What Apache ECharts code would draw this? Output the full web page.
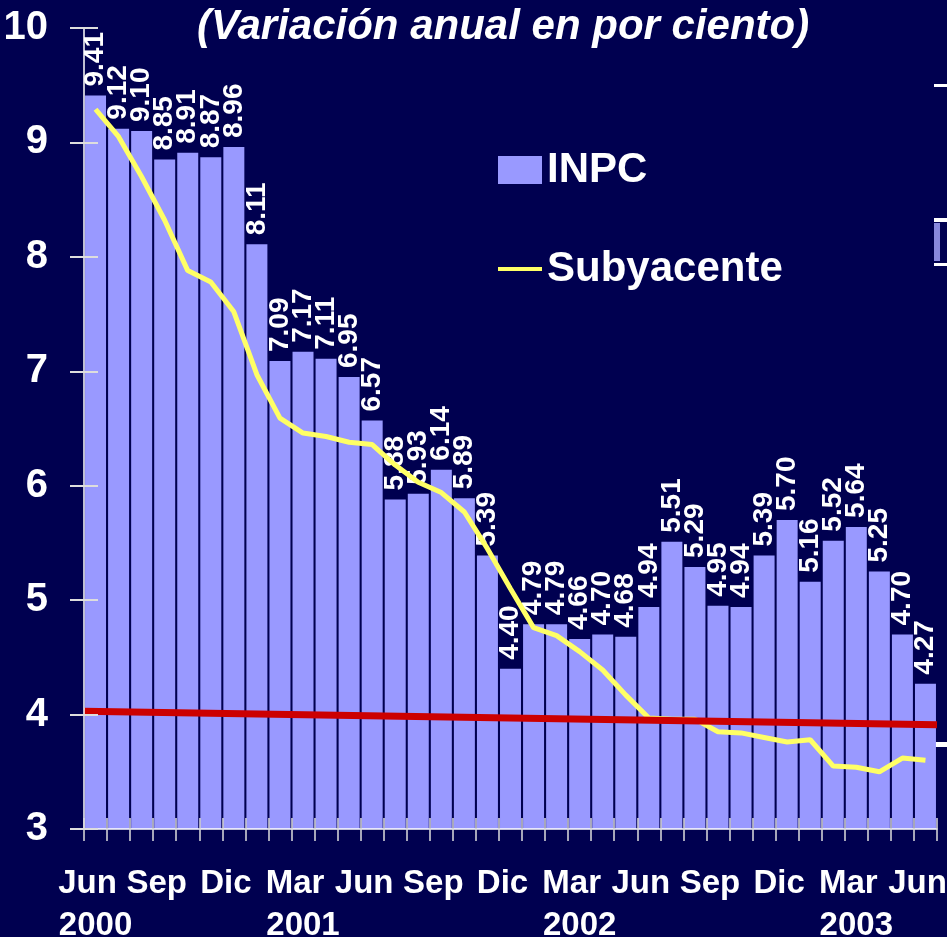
<!DOCTYPE html>
<html>
<head>
<meta charset="utf-8">
<script src="https://cdn.jsdelivr.net/npm/echarts@6/dist/echarts.min.js"></script>
<style>
html,body{margin:0;padding:0;background:#000050;}
#chart{width:947px;height:937px;}
</style>
</head>
<body>
<div id="chart"></div>
<script>
// ---- data ----
const categories = [
  'Jun','Jul','Ago','Sep','Oct','Nov','Dic',
  'Ene','Feb','Mar','Abr','May','Jun','Jul','Ago','Sep','Oct','Nov','Dic',
  'Ene','Feb','Mar','Abr','May','Jun','Jul','Ago','Sep','Oct','Nov','Dic',
  'Ene','Feb','Mar','Abr','May','Jun'
];
const yearIdx = [0, 9, 21, 33];
const years = ['2000', '2001', '2002', '2003'];
const inpc = [
  9.41, 9.12, 9.10, 8.85, 8.91, 8.87, 8.96,
  8.11, 7.09, 7.17, 7.11, 6.95, 6.57, 5.88, 5.93, 6.14, 5.89, 5.39, 4.40,
  4.79, 4.79, 4.66, 4.70, 4.68, 4.94, 5.51, 5.29, 4.95, 4.94, 5.39, 5.70,
  5.16, 5.52, 5.64, 5.25, 4.70, 4.27
];
const subyacente = [
  9.29, 9.05, 8.70, 8.32, 7.88, 7.78, 7.52,
  6.97, 6.59, 6.46, 6.43, 6.38, 6.36, 6.18, 6.03, 5.94, 5.77, 5.45, 5.10,
  4.76, 4.69, 4.55, 4.39, 4.17, 3.97, 3.96, 3.96, 3.85, 3.84, 3.80, 3.76,
  3.78, 3.55, 3.54, 3.50, 3.62, 3.60
];
const trendX = [0, 37];
const trendY = [4.03, 3.91];
const yTicks = { min: 3, max: 10, interval: 1 };
const titleText = '(Variación anual en por ciento)';

// ---- chart ----
const FONT = '"Liberation Sans", Arial, sans-serif';
const chart = echarts.init(document.getElementById('chart'), null, { renderer: 'canvas' });

const trendData = trendX.map((x, i) => [x, trendY[i]]);
const labelText = { color: '#ffffff', fontFamily: FONT, fontSize: 33, fontWeight: 'bold' };

const option = {
  backgroundColor: '#000050',
  animation: false,
  title: {
    text: titleText,
    left: 192, top: 1,
    textStyle: { color: '#ffffff', fontFamily: FONT, fontSize: 42, fontWeight: 'bold', fontStyle: 'italic' }
  },
  legend: {
    data: [
      { name: 'INPC', icon: 'rect' },
      { name: 'Subyacente', icon: 'path://M0,0 L46,0 L46,4 L0,4 Z' }
    ],
    orient: 'vertical',
    left: 493, top: 144,
    itemWidth: 44, itemHeight: 28,
    itemGap: 57,
    itemTextGap: 18,
    textStyle: { color: '#ffffff', fontFamily: FONT, fontSize: 42, fontWeight: 'bold', lineHeight: 28 }
  },
  grid: [
    { left: 84, right: 10, top: 28, bottom: 108, containLabel: false, outerBoundsMode: 'none' },
    // label-only grid, slightly shifted to the left as the month names are in the original
    { left: 76, right: 18, top: 28, bottom: 108, containLabel: false, outerBoundsMode: 'none' }
  ],
  xAxis: [
    {
      type: 'category', data: categories, boundaryGap: true, position: 'bottom', z: 10, gridIndex: 0,
      axisLine: { show: true, lineStyle: { color: '#ffffff', width: 1.5 } },
      axisTick: { show: true, interval: 0, length: 12, lineStyle: { color: '#dddddd', width: 1.5 } },
      axisLabel: { show: false },
      splitLine: { show: false }
    },
    {
      type: 'category', data: categories, boundaryGap: true, position: 'bottom', z: 10, gridIndex: 0,
      axisLine: { show: false },
      axisTick: { show: true, inside: true, interval: 0, length: 11, lineStyle: { color: '#dddddd', width: 1.5 } },
      axisLabel: Object.assign({
        interval: (i) => yearIdx.indexOf(i) >= 0,
        margin: 80, showMinLabel: true, showMaxLabel: true, hideOverlap: false,
        formatter: (v, i) => { const k = yearIdx.indexOf(i); return k >= 0 ? years[k] : ''; }
      }, labelText),
      splitLine: { show: false }
    },
    {
      type: 'value', min: 0, max: 37, show: false, gridIndex: 0
    },
    {
      type: 'category', data: categories, boundaryGap: true, position: 'bottom', z: 10, gridIndex: 1,
      axisLine: { show: false },
      axisTick: { show: false },
      axisLabel: Object.assign({ interval: 2, margin: 38, showMinLabel: true, showMaxLabel: true, hideOverlap: false }, labelText),
      splitLine: { show: false }
    }
  ],
  yAxis: [
    {
      type: 'value', min: yTicks.min, max: yTicks.max, interval: yTicks.interval, z: 10, gridIndex: 0,
      axisLine: { show: true, lineStyle: { color: '#ffffff', width: 1.5 } },
      axisTick: { show: true, length: 14, lineStyle: { color: '#dddddd', width: 2 } },
      axisLabel: { color: '#ffffff', fontFamily: FONT, fontSize: 40, fontWeight: 'bold', margin: 36 },
      splitLine: { show: false }
    },
    {
      type: 'value', min: yTicks.min, max: yTicks.max, interval: yTicks.interval, position: 'left', z: 10, gridIndex: 0,
      axisLine: { show: false },
      axisTick: { show: true, inside: true, length: 14, lineStyle: { color: '#dddddd', width: 2 } },
      axisLabel: { show: false },
      splitLine: { show: false }
    },
    {
      type: 'value', min: yTicks.min, max: yTicks.max, interval: yTicks.interval, show: false, gridIndex: 1
    }
  ],
  series: [
    {
      name: 'INPC', type: 'bar', data: inpc, xAxisIndex: 0, yAxisIndex: 0,
      barCategoryGap: '9%',
      itemStyle: { color: '#9999ff' },
      label: {
        show: true, position: 'top', rotate: 90, distance: 9,
        align: 'left', verticalAlign: 'middle',
        color: '#ffffff', fontFamily: FONT, fontSize: 28, fontWeight: 'bold',
        formatter: p => p.value.toFixed(2)
      },
      z: 2
    },
    {
      name: 'Subyacente', type: 'line', data: subyacente, xAxisIndex: 0, yAxisIndex: 0,
      symbol: 'none', lineStyle: { color: '#ffff66', width: 5 }, itemStyle: { color: '#ffff66' },
      z: 3
    },
    {
      name: 'Tendencia', type: 'line', data: trendData, xAxisIndex: 2, yAxisIndex: 0,
      symbol: 'none', lineStyle: { color: '#cc0000', width: 7 }, itemStyle: { color: '#cc0000' },
      z: 4, silent: true
    }
  ],
  graphic: [
    { type: 'rect', shape: { x: 934, y: 84, width: 13, height: 3 }, style: { fill: '#ffffff' } },
    { type: 'rect', shape: { x: 934, y: 218, width: 13, height: 4 }, style: { fill: '#ffffff' } },
    { type: 'rect', shape: { x: 934, y: 223, width: 6, height: 38 }, style: { fill: '#8888dd' } },
    { type: 'rect', shape: { x: 934, y: 263, width: 13, height: 3 }, style: { fill: '#ffffff' } },
    { type: 'rect', shape: { x: 934, y: 742, width: 13, height: 5 }, style: { fill: '#ffffff' } }
  ]
};
chart.setOption(option);
</script>
</body>
</html>
